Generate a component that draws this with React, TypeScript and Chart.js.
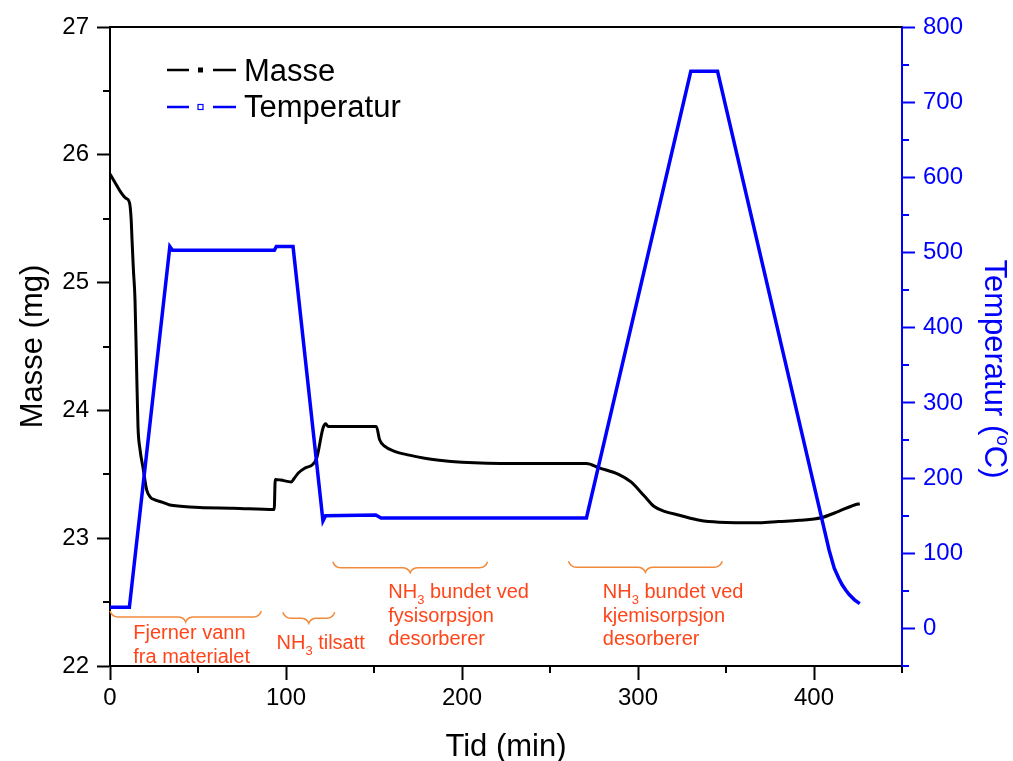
import React, { useEffect, useRef } from 'react';
import { Chart, registerables } from 'chart.js';

Chart.register(...registerables);

// ---- data (time in min) ----
const massTime = [0, 3, 6, 9, 11, 12, 12.5, 13.3, 14.2, 15, 15.9, 17, 18.9, 20.8, 23, 25.5, 30, 34, 40, 51, 70, 93.3,
  93.9, 97, 103, 104.5, 107, 111, 115, 117.5, 121, 122.5, 124, 130, 151.3, 153.2, 156, 161.7, 170, 178.8, 187, 200,
  230, 270.7, 278, 289, 296, 303.6, 309, 315, 323.5, 335, 346, 369, 380, 391.6, 404, 414, 423, 426];
const massValues = [25.85, 25.78, 25.71, 25.66, 25.63, 25.5, 25.34, 25.1, 24.87, 24.4, 23.875, 23.7, 23.54, 23.38, 23.32,
  23.3, 23.28, 23.26, 23.25, 23.24, 23.235, 23.225,
  23.46, 23.455, 23.44, 23.465, 23.51, 23.55, 23.575, 23.63, 23.86, 23.895, 23.875, 23.875, 23.875, 23.77, 23.72, 23.68,
  23.65, 23.625, 23.61, 23.595, 23.585, 23.585, 23.55, 23.5, 23.44, 23.33, 23.25, 23.21, 23.18, 23.14, 23.125, 23.12,
  23.13, 23.14, 23.16, 23.21, 23.26, 23.27];

const tempTime = [0, 11, 34, 35.5, 93.4, 94.5, 104, 121, 122.5, 151, 154, 270.7, 330, 345.2, 406, 408.6, 411.5, 414, 416, 418, 420, 423, 426];
const tempValues = [28, 28, 508, 503, 503, 508, 508, 143, 150, 151, 147, 147, 741, 741, 130, 104, 80, 67, 58, 51, 45, 38, 33];

const xTicks = [0, 100, 200, 300, 400];
const xMinorTicks = [50, 150, 250, 350, 450];
const massTicks = [22, 23, 24, 25, 26, 27];
const massMinorTicks = [22.5, 23.5, 24.5, 25.5, 26.5];
const tempTicks = [0, 100, 200, 300, 400, 500, 600, 700, 800];
const tempMinorTicks = [-50, 50, 150, 250, 350, 450, 550, 650, 750];

const seriesLabels = ['Masse', 'Temperatur'];
const xTitle = 'Tid (min)';
const massTitle = 'Masse (mg)';

// annotation braces: [start time, end time, mass level]
const braceStart = [0, 98.2, 126.6, 260.5];
const braceEnd = [86, 127.7, 214.5, 347.9];
const braceLevel = [22.43, 22.42, 22.815, 22.82];
// annotation texts: left time, first baseline (mass units), lines ("_3" = subscript)
const noteTime = [13.2, 94.6, 158.1, 280];
const noteLevel = [22.211, 22.133, 22.531, 22.531];
const noteLines = [
  ['Fjerner vann', 'fra materialet'],
  ['NH_3 tilsatt'],
  ['NH_3 bundet ved', 'fysisorpsjon', 'desorberer'],
  ['NH_3 bundet ved', 'kjemisorpsjon', 'desorberer'],
];

const FONT = '"Liberation Sans", Arial, Helvetica, sans-serif';
const BLUE = '#0000ff';
const NOTE_COLOR = '#ff4519';
const BRACE_COLOR = '#f28a3c';

function drawRich(ctx: CanvasRenderingContext2D, text: string, x: number, y: number, size: number) {
  const parts = text.split(/_(\d)/);
  let cx = x;
  parts.forEach((p, i) => {
    if (i % 2 === 1) {
      ctx.font = `${Math.round(size * 0.65)}px ${FONT}`;
      ctx.fillText(p, cx, y + size * 0.3);
      cx += ctx.measureText(p).width;
    } else {
      ctx.font = `${size}px ${FONT}`;
      ctx.fillText(p, cx, y);
      cx += ctx.measureText(p).width;
    }
  });
}

function drawBrace(ctx: CanvasRenderingContext2D, x0: number, x1: number, y: number) {
  const xm = (x0 + x1) / 2;
  const h1 = 6;
  const h2 = 11;
  const r = 8;
  ctx.beginPath();
  ctx.moveTo(x0, y);
  ctx.quadraticCurveTo(x0 + 2, y + h1, x0 + r, y + h1);
  ctx.lineTo(xm - r, y + h1);
  ctx.quadraticCurveTo(xm - 2, y + h1, xm, y + h2);
  ctx.quadraticCurveTo(xm + 2, y + h1, xm + r, y + h1);
  ctx.lineTo(x1 - r, y + h1);
  ctx.quadraticCurveTo(x1 - 2, y + h1, x1, y);
  ctx.stroke();
}

const decorPlugin = {
  id: 'decor',
  afterDraw(chart: any) {
    const ctx: CanvasRenderingContext2D = chart.ctx;
    const { left, right, top, bottom } = chart.chartArea;
    const xs = chart.scales.x;
    const ys = chart.scales.y;
    const ts = chart.scales.y1;
    ctx.save();
    // top frame
    ctx.strokeStyle = '#000';
    ctx.lineWidth = 2;
    ctx.beginPath();
    ctx.moveTo(left - 1, top);
    ctx.lineTo(right, top);
    ctx.stroke();
    // minor ticks
    xMinorTicks.forEach((v) => {
      const p = Math.round(xs.getPixelForValue(v));
      ctx.beginPath();
      ctx.moveTo(p, bottom);
      ctx.lineTo(p, bottom + 7);
      ctx.stroke();
    });
    massMinorTicks.forEach((v) => {
      const p = Math.round(ys.getPixelForValue(v));
      ctx.beginPath();
      ctx.moveTo(left - 7, p);
      ctx.lineTo(left, p);
      ctx.stroke();
    });
    ctx.strokeStyle = BLUE;
    tempMinorTicks.forEach((v) => {
      const p = Math.round(ts.getPixelForValue(v));
      ctx.beginPath();
      ctx.moveTo(right, p);
      ctx.lineTo(right + 7, p);
      ctx.stroke();
    });

    // legend
    const drawLegendRow = (y: number, textY: number, color: string, filled: boolean, label: string) => {
      ctx.strokeStyle = color;
      ctx.lineWidth = 2.5;
      ctx.beginPath();
      ctx.moveTo(167, y);
      ctx.lineTo(189, y);
      ctx.moveTo(213, y);
      ctx.lineTo(236, y);
      ctx.stroke();
      if (filled) {
        ctx.fillStyle = color;
        ctx.fillRect(198, y - 2.5, 5, 5);
      } else {
        ctx.lineWidth = 1.2;
        ctx.strokeRect(198, y - 2.5, 5, 5);
      }
      ctx.fillStyle = '#000';
      ctx.font = `31px ${FONT}`;
      ctx.textAlign = 'left';
      ctx.textBaseline = 'alphabetic';
      ctx.fillText(label, 244, textY);
    };
    drawLegendRow(70, 81, '#000', true, seriesLabels[0]);
    drawLegendRow(107, 117, BLUE, false, seriesLabels[1]);

    // annotations
    ctx.strokeStyle = BRACE_COLOR;
    ctx.lineWidth = 1.5;
    braceStart.forEach((s, i) => {
      drawBrace(ctx, xs.getPixelForValue(s), xs.getPixelForValue(braceEnd[i]), ys.getPixelForValue(braceLevel[i]));
    });
    ctx.fillStyle = NOTE_COLOR;
    ctx.textAlign = 'left';
    ctx.textBaseline = 'alphabetic';
    noteLines.forEach((lines, i) => {
      const x = xs.getPixelForValue(noteTime[i]);
      const y0 = ys.getPixelForValue(noteLevel[i]);
      lines.forEach((ln, j) => drawRich(ctx, ln, x, y0 + j * 23.5, 20));
    });

    // axis titles
    ctx.fillStyle = '#000';
    ctx.font = `31px ${FONT}`;
    ctx.textAlign = 'center';
    ctx.textBaseline = 'alphabetic';
    ctx.fillText(xTitle, (left + right) / 2, 756);

    ctx.save();
    ctx.translate(42, (top + bottom) / 2);
    ctx.rotate(-Math.PI / 2);
    ctx.fillText(massTitle, 0, 0);
    ctx.restore();

    ctx.save();
    ctx.translate(985, 369);
    ctx.rotate(Math.PI / 2);
    ctx.fillStyle = BLUE;
    ctx.textAlign = 'left';
    const a = 'Temperatur (';
    const sup = 'o';
    const b = 'C)';
    ctx.font = `31px ${FONT}`;
    const wa = ctx.measureText(a).width;
    const wb = ctx.measureText(b).width;
    ctx.font = `19px ${FONT}`;
    const ws = ctx.measureText(sup).width;
    let cx = -(wa + ws + wb) / 2;
    ctx.font = `31px ${FONT}`;
    ctx.fillText(a, cx, 0);
    cx += wa;
    ctx.font = `19px ${FONT}`;
    ctx.fillText(sup, cx, -12);
    cx += ws;
    ctx.font = `31px ${FONT}`;
    ctx.fillText(b, cx, 0);
    ctx.restore();

    ctx.restore();
  },
};

export default function App() {
  const ref = useRef<HTMLCanvasElement | null>(null);
  useEffect(() => {
    if (!ref.current) return;
    const chart = new Chart(ref.current, {
      type: 'line',
      data: {
        datasets: [
          {
            label: seriesLabels[1],
            data: tempTime.map((t, i) => ({ x: t, y: tempValues[i] })),
            yAxisID: 'y1',
            borderColor: BLUE,
            borderWidth: 3.5,
            pointRadius: 0,
            tension: 0,
            order: 1,
          },
          {
            label: seriesLabels[0],
            data: massTime.map((t, i) => ({ x: t, y: massValues[i] })),
            yAxisID: 'y',
            borderColor: '#000',
            borderWidth: 3,
            pointRadius: 0,
            cubicInterpolationMode: 'monotone',
            order: 2,
          },
        ],
      },
      options: {
        responsive: false,
        animation: false,
        devicePixelRatio: 1,
        layout: { padding: { top: 27, left: 0, right: 0, bottom: 0 } },
        plugins: { legend: { display: false }, tooltip: { enabled: false } },
        scales: {
          x: {
            type: 'linear',
            position: 'bottom',
            min: 0,
            max: 450,
            afterBuildTicks: (s: any) => { s.ticks = xTicks.map((v) => ({ value: v })); },
            afterFit: (s: any) => { s.height = 95; },
            grid: { drawOnChartArea: false, drawTicks: true, tickLength: 14, tickWidth: 2, tickColor: '#000' },
            border: { display: true, color: '#000', width: 2 },
            ticks: { color: '#000', font: { family: FONT, size: 24 }, padding: 4, maxRotation: 0, autoSkip: false },
          },
          y: {
            type: 'linear',
            position: 'left',
            min: 22,
            max: 27,
            afterBuildTicks: (s: any) => { s.ticks = massTicks.map((v) => ({ value: v })); },
            afterFit: (s: any) => { s.width = 110; },
            grid: { drawOnChartArea: false, drawTicks: true, tickLength: 13, tickWidth: 2, tickColor: '#000' },
            border: { display: true, color: '#000', width: 2 },
            ticks: { color: '#000', font: { family: FONT, size: 24 }, padding: 8, autoSkip: false },
          },
          y1: {
            type: 'linear',
            position: 'right',
            min: -50,
            max: 800,
            afterBuildTicks: (s: any) => { s.ticks = tempTicks.map((v) => ({ value: v })); },
            afterFit: (s: any) => { s.width = 111; },
            grid: { drawOnChartArea: false, drawTicks: true, tickLength: 13, tickWidth: 2, tickColor: BLUE },
            border: { display: true, color: BLUE, width: 2 },
            ticks: { color: BLUE, font: { family: FONT, size: 24 }, padding: 8, autoSkip: false },
          },
        },
      },
      plugins: [decorPlugin],
    } as any);
    return () => chart.destroy();
  }, []);
  return (
    <div style={{ position: 'fixed', left: 0, top: 0, width: 1013, height: 761, background: '#fff' }}>
      <canvas ref={ref} width={1013} height={761} style={{ display: 'block', width: 1013, height: 761 }} />
    </div>
  );
}
